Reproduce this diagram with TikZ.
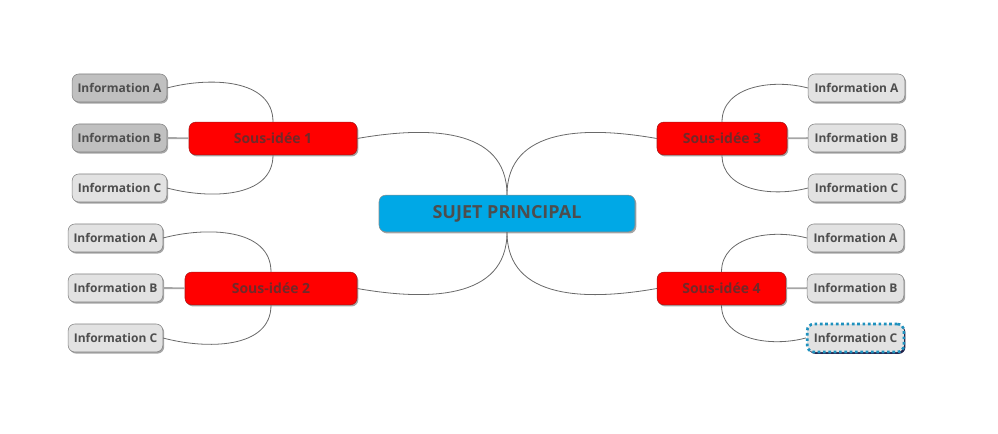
\documentclass[tikz,border=0pt]{standalone}
\usepackage{fontspec}
\setmainfont{Open Sans}
\usepackage{xcolor}
\usepackage{tikz}
\usetikzlibrary{positioning, shadows}
\definecolor{sujetbleu}{RGB}{0,168,230}
\definecolor{texte}{RGB}{77,77,77}
\definecolor{lien}{RGB}{105,105,105}
\definecolor{rougebord}{RGB}{170,20,20}
\definecolor{rougetexte}{RGB}{112,42,42}
\definecolor{infoclair}{RGB}{226,226,226}
\definecolor{infofonce}{RGB}{192,192,192}
\definecolor{choix}{RGB}{30,145,190}
\begin{document}
\begin{tikzpicture}[x=0.75pt,y=-0.75pt]
						\useasboundingbox (0,0) rectangle (998,434);
						\tikzstyle{ombre}=[drop shadow={shadow xshift=1pt,shadow yshift=-1.2pt,opacity=.35,fill=black}]
						\tikzstyle{sujet}=[rounded corners=5pt,draw=black!45,fill=sujetbleu,ombre,minimum width=192pt,minimum height=27.5pt,text=texte,font=\bfseries\fontsize{13.5}{16}\selectfont]
						\tikzstyle{idee}=[rounded corners=5pt,draw=rougebord,fill=red,ombre,minimum height=24.5pt,text=rougetexte,font=\bfseries\fontsize{10.5}{12}\selectfont]
						\tikzstyle{info}=[rounded corners=5pt,draw=black!50,fill=infoclair,ombre,minimum width=71pt,minimum height=21pt,text=texte,font=\bfseries\fontsize{9}{11}\selectfont]
						\tikzstyle{infogris}=[info,fill=infofonce]
						\tikzstyle{infochoix}=[info,draw=choix,line width=2pt,dotted,drop shadow={shadow xshift=1.2pt,shadow yshift=-1.4pt,opacity=.8,fill=black!80!blue}]
						\tikzstyle{lien}=[draw=lien,line width=0.6pt]
						\tikzstyle{droit}=[draw=black!35,line width=1.4pt]
						% sujet et sous-idees
						\node[sujet](s) at (507,213.5) {SUJET PRINCIPAL};
						\node[idee,minimum width=126pt](i1) at (273,138.5) {Sous-idée 1};
						\node[idee,minimum width=129pt](i2) at (271,288.5) {Sous-idée 2};
						\node[idee,minimum width=97.5pt](i3) at (722,138.5) {Sous-idée 3};
						\node[idee,minimum width=96.5pt](i4) at (721.5,288.5) {Sous-idée 4};
						% informations
						\node[infogris](a1) at (119.5,88) {Information A};
						\node[infogris](b1) at (119.5,138) {Information B};
						\node[info](c1) at (119.5,188) {Information C};
						\node[info](a2) at (115.5,238) {Information A};
						\node[info](b2) at (115.5,288) {Information B};
						\node[info](c2) at (115.5,338) {Information C};
						\node[info,minimum width=72.5pt](a3) at (856.5,88) {Information A};
						\node[info,minimum width=72.5pt](b3) at (856.5,138) {Information B};
						\node[info,minimum width=72.5pt](c3) at (856.5,188) {Information C};
						\node[info,minimum width=72.5pt](a4) at (855.5,238) {Information A};
						\node[info,minimum width=72.5pt](b4) at (855.5,288) {Information B};
						\node[infochoix,minimum width=72.5pt](c4) at (855.5,338) {Information C};
						% liens
						\path[lien]
							(s.north) edge[out=90,in=10,looseness=1.1] (i1.east)
							(s.north) edge[out=90,in=170,looseness=1.1] (i3.west)
							(s.south) edge[out=-90,in=-10,looseness=1.1] (i2.east)
							(s.south) edge[out=-90,in=190,looseness=1.1] (i4.west)
							(i1.north) edge[out=90,in=15] (a1.east)
							(i1.south) edge[out=-90,in=-15] (c1.east)
							(i2.north) edge[out=90,in=15] (a2.east)
							(i2.south) edge[out=-90,in=-15] (c2.east)
							(i3.north) edge[out=90,in=165] (a3.west)
							(i3.south) edge[out=-90,in=195] (c3.west)
							(i4.north) edge[out=90,in=165] (a4.west)
							(i4.south) edge[out=-90,in=195] (c4.west);
						\path[droit]
							(b1) edge (i1)
							(b2) edge (i2)
							(i3) edge (b3)
							(i4) edge (b4);
					\end{tikzpicture}
\end{document}
